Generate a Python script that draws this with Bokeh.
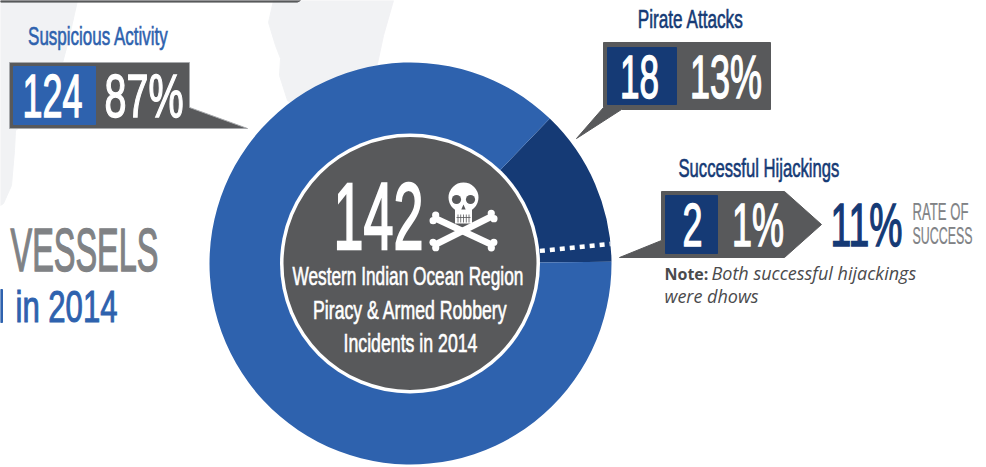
import numpy as np
from bokeh.plotting import figure
from bokeh.io import curdoc
from bokeh.events import DocumentReady
from bokeh.models import Range1d, CustomJS
from bokeh.core.properties import value
from bokeh.embed import file_html
from bokeh.resources import INLINE

# ---- data
categories = ["Pirate Attacks", "Suspicious Activity"]
counts = [18, 124]
shares = ["13%", "87%"]
hijack_count = 2
hijack_share = "1%"
hijack_rate = "11%"
total = 142
center_lines = ["Western Indian Ocean Region", "Piracy & Armed Robbery", "Incidents in 2014"]

BLUE = "#2e62ae"
NAVY = "#153a75"
GRAY = "#58595b"
MID = "#808285"
LAND = "#f1f2f4"
COND = value("Liberation Sans")
NOTE = value("Open Sans")
widths = {}
weights = {}

def Y(py):
    return 467 - np.asarray(py, dtype=float)

p = figure(width=986, height=467, x_range=Range1d(0, 986), y_range=Range1d(0, 467),
           output_backend="svg", toolbar_location=None, min_border=0,
           background_fill_color="white", border_fill_color="white", outline_line_color=None)
p.xaxis.visible = False
p.yaxis.visible = False
p.grid.visible = False

def poly(xs, ys, color, line=None):
    p.patch(list(xs), list(Y(ys)), fill_color=color, line_color=line or color, line_width=1)

def txt(x, y, s, size, color, w=None, align="center", font=COND, style="normal", extra=0.024):
    if w:
        widths[s] = w
        weights[s] = extra * size
    # the renderer sets a text about 0.36 em below the requested baseline
    k = 0.36 if font is COND else 0.4
    p.text([x], [float(Y(y - k * size))], text=[s], text_font=font, text_font_size=f"{size}px",
           text_color=color, text_align=align, text_baseline="alphabetic", text_font_style=style)

# ---- pale land shapes behind the chart
poly([0, 77, 68, 60, 40, 22, 15, 14, 11, 3, 0], [0, 0, 40, 70, 100, 125, 130, 150, 185, 203, 205], LAND)
poly([273, 393, 383, 377, 372, 300, 287, 279, 280, 275, 268],
     [0, 0, 35, 63, 80, 110, 100, 75, 58, 45, 22], LAND)
poly([0, 300, 297, 0], [0, 0, 1.6, 1.6], GRAY)

# ---- donut, drawn from the counts
cx, cy = 410.0, 263.0
cy_d = float(Y(cy))
R_out, R_ring, R_in = 201.0, 130.0, 126.5
start_deg = 0.5
ang = np.cumsum([0] + counts) / total * 2 * np.pi + np.deg2rad(start_deg)
p.annular_wedge([cx, cx], [cy_d, cy_d], inner_radius=R_in, outer_radius=R_out,
                start_angle=list(ang[:-1]), end_angle=list(ang[1:]),
                fill_color=[NAVY, BLUE], line_color=None)
p.circle([cx - 0.5], [cy_d], radius=R_ring, fill_color="white", line_color=None)
p.circle([cx - 0.5], [cy_d], radius=R_in, fill_color=GRAY, line_color=None)

# successful hijackings marker (share of total as an angle)
a = hijack_count / total * 2 * np.pi + np.deg2rad(start_deg)
p.line([cx + R_ring * np.cos(a), cx + R_out * np.cos(a)],
       [cy_d + R_ring * np.sin(a), cy_d + R_out * np.sin(a)],
       line_color="white", line_width=4.5, line_dash="5 5")

# ---- callouts
poly([9, 189, 189, 247, 9], [62, 62, 107, 128, 128], GRAY, "#a7a9ac")
poly([13, 95, 95, 13], [66, 66, 124, 124], BLUE)
txt(98, 45, categories[1], 25, BLUE, 140)
txt(52, 117, str(counts[1]), 61, "white", 60)
txt(143.5, 117, shares[1], 61, "white", 79)

poly([603, 770, 770, 621, 576, 603], [42, 42, 109, 109, 138, 107], GRAY)
poly([607, 676, 676, 607], [47, 47, 104, 104], NAVY)
txt(690.5, 28, categories[0], 25, NAVY, 105)
txt(639, 98, str(counts[0]), 61, "white", 39)
txt(725.5, 98, shares[0], 61, "white", 72)

poly([661, 784, 821, 784, 619, 661], [191, 191, 224, 257, 257, 240], GRAY)
poly([665, 717, 717, 665], [195, 195, 253, 253], NAVY)
txt(758.5, 177, "Successful Hijackings", 25, NAVY, 161)
txt(692, 246, str(hijack_count), 61, "white", 20)
txt(757.5, 246, hijack_share, 61, "white", 52)
txt(866, 246, hijack_rate, 61, NAVY, 72)
txt(940, 220, "RATE OF", 24, MID, 56, extra=0.01)
txt(942, 244, "SUCCESS", 24, MID, 60, extra=0.01)
txt(664, 280, "Note:", 16, "#4a4a4c", align="left", font=NOTE, style="bold")
txt(711, 280, "Both successful hijackings", 18, "#4a4a4c", align="left", font=NOTE, style="italic")
txt(664, 303, "were dhows", 18, "#4a4a4c", align="left", font=NOTE, style="italic")

# left headline fragment (the stem of a letter cut off by the picture's edge, then the words)
txt(84, 271, "VESSELS", 61, MID, 148)
poly([0, 2, 2, 0], [289, 289, 322, 322], BLUE)
txt(66, 322, "in 2014", 44, BLUE, 102)

# ---- centre
txt(378, 250, str(total), 95, "white", 90)
for s, b, w, x in zip(center_lines, [285, 318, 351], [231, 194, 134], [407.5, 410, 410]):
    txt(x, b, s, 25, "white", w)

# skull and crossbones
def bone(x0, y0, x1, y1):
    p.line([x0, x1], list(Y([y0, y1])), line_color="white", line_width=6.5)
    d = np.array([x1 - x0, y1 - y0], float)
    d /= np.hypot(*d)
    n = np.array([-d[1], d[0]])
    for (ex, ey), s in (((x0, y0), 1), ((x1, y1), -1)):
        for k in (-1, 1):
            q = np.array([ex, ey]) + s * d * 1 + k * n * 3
            p.circle([q[0]], [float(Y(q[1]))], radius=3.6, fill_color="white", line_color=None)

bone(433, 217, 493, 245)
bone(433, 245, 493, 215)
p.ellipse([463], [float(Y(197))], width=30, height=30, fill_color="white", line_color=None)
p.rect([463], [float(Y(215))], width=17, height=16, fill_color="white", line_color=None)
p.circle([456, 470], list(Y([199, 199])), radius=4.6, fill_color=GRAY, line_color=None)
p.patch([463, 460.8, 465.2], list(Y([204, 209, 209])), fill_color=GRAY, line_color=None)
for tx in (457.5, 460.2, 463, 465.8, 468.5):
    p.line([tx, tx], list(Y([214, 222])), line_color=GRAY, line_width=0.8)
p.line([456, 470], list(Y([217, 217])), line_color=GRAY, line_width=0.8)

# The reference's headline face is a heavy condensed one: narrow each text to its
# measured width and thicken its strokes a little.
condense = CustomJS(args=dict(widths=widths, weights=weights), code="""
function walk(root, out) {
  root.querySelectorAll('*').forEach(e => {
    if (e.tagName && e.tagName.toLowerCase() === 'text') out.push(e);
    if (e.shadowRoot) walk(e.shadowRoot, out);
  });
  return out;
}
function run() {
  walk(document, []).forEach(t => {
    const w = widths[t.textContent];
    if (!w || t.dataset.cond) return;
    const b = t.getBBox();
    if (!b.width) return;
    t.dataset.cond = '1';
    const c = b.x + b.width / 2, old = t.getAttribute('transform') || '';
    t.setAttribute('transform', `${old} translate(${c} 0) scale(${w / b.width} 1) translate(${-c} 0)`);
    t.style.stroke = getComputedStyle(t).fill;
    t.style.strokeWidth = weights[t.textContent] + 'px';
  });
}
[0, 50, 200, 500].forEach(ms => setTimeout(run, ms));
""")
doc = curdoc()
doc.add_root(p)
doc.js_on_event(DocumentReady, condense)

open("out.html", "w").write(file_html(p, INLINE))
